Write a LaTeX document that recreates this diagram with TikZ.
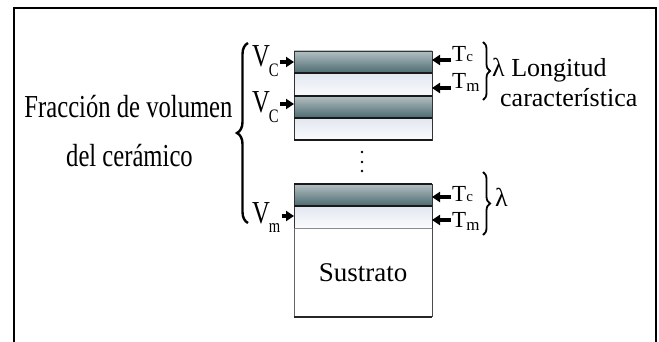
\documentclass[tikz,border=0pt]{standalone}
\usepackage{fontspec}
\setmainfont{Liberation Serif}
\newfontfamily\condfont[FakeStretch=0.77]{Liberation Serif}
\usetikzlibrary{arrows.meta,decorations.pathreplacing}
\definecolor{dkTop}{HTML}{B4C0C3}
\definecolor{dkMid}{HTML}{6E8C91}
\definecolor{dkBot}{HTML}{4A6A70}
\definecolor{ltTop}{HTML}{E2E7F0}
\definecolor{ltBot}{HTML}{FAFBFD}
\newcommand\vlow[2]{\raisebox{-#1}{\fontsize{19}{19}\selectfont #2}}
\begin{document}
\begin{tikzpicture}[x=1pt,y=-1pt,
  darklayer/.style={top color=dkTop, middle color=dkMid, bottom color=dkBot},
  lightlayer/.style={top color=ltTop, bottom color=ltBot},
  condlab/.style={font=\condfont\fontsize{32}{32}\selectfont, inner sep=0pt},
  tlab/.style={font=\fontsize{23}{23}\selectfont, inner sep=0pt, anchor=base west},
  biglab/.style={font=\fontsize{26}{26}\selectfont, inner sep=0pt, anchor=base west},
  arr/.style={line width=3.4pt, -{Triangle[length=8pt,width=10pt]}},
  thickline/.style={line width=2pt, draw=black!90},
  thinline/.style={line width=0.8pt, draw=black!80},
  bracel/.style={decorate, decoration={brace, amplitude=11pt}, line width=2.4pt},
  bracer/.style={decorate, decoration={brace, amplitude=7pt}, line width=1.8pt}]
\useasboundingbox (0,0) rectangle (659,342);
% frame
\draw[line width=2.6pt, line join=miter] (14,360) -- (14,8) -- (656,8) -- (656,360);
% layers group 1
\shade[darklayer] (294,51) rectangle (432,73);
\shade[lightlayer] (294,73) rectangle (432,96);
\shade[darklayer] (294,96) rectangle (432,118);
\shade[lightlayer] (294,118) rectangle (432,140);
\draw[thinline] (294,51) rectangle (432,140);
\draw[thickline] (294,73) -- (432,73);
\draw[thickline] (294,96) -- (432,96);
\draw[thickline] (294,118) -- (432,118);
\draw[thickline] (294,140) -- (432,140);
% dots
\fill (362,152) circle (1.4);
\fill (362,162) circle (1.4);
\fill (362,171) circle (1.4);
% layers group 2
\shade[darklayer] (294,184) rectangle (432,206);
\shade[lightlayer] (294,206) rectangle (432,228);
\draw[thinline] (294,228) -- (294,184) -- (432,184) -- (432,228);
\draw[thickline] (294,184) -- (432,184);
\draw[thickline] (294,206) -- (432,206);
\draw[line width=0.6pt, draw=black!45] (294,228) -- (432,228);
% substrate
\draw[line width=0.8pt, draw=black!60] (294,228) -- (294,317);
\draw[line width=0.8pt, draw=black!70] (432,228) -- (432,317);
\draw[line width=1.8pt, draw=black!85] (293.6,317) -- (432.4,317);
\node[font=\fontsize{27}{27}\selectfont, inner sep=0pt] (sus) at (363,273) {Sustrato};
% left text
\node[condlab, anchor=base] (frac1) at (128.5,118) {Fracción de volumen};
\node[condlab, anchor=base] (frac2) at (129.5,167) {del cerámico};
% V labels
\node[condlab, anchor=base west] (vc1) at (252,67) {V\kern-1pt\vlow{10pt}{C}};
\node[condlab, anchor=base west] (vc2) at (252,113) {V\kern-1pt\vlow{10pt}{C}};
\node[condlab, anchor=base west] (vm) at (252,223) {V\kern-1pt\vlow{9pt}{m}};
\coordinate (d1) at (294,62);
\coordinate (d2) at (294,104);
\coordinate (d3) at (294,216);
\draw[arr] ([xshift=1pt]vc1.east |- d1) -- (d1);
\draw[arr] ([xshift=1pt]vc2.east |- d2) -- (d2);
\draw[arr] ([xshift=1pt]vm.east |- d3) -- (d3);
% T labels
\node[tlab] (tc1) at (452,62) {T\raisebox{0pt}{\fontsize{15}{15}\selectfont c}};
\node[tlab] (tm1) at (452,89) {T\raisebox{-3pt}{\fontsize{17}{17}\selectfont m}};
\node[tlab] (tc2) at (452,201) {T\raisebox{0pt}{\fontsize{15}{15}\selectfont c}};
\node[tlab] (tm2) at (452,227) {T\raisebox{-3pt}{\fontsize{17}{17}\selectfont m}};
\coordinate (r1) at (432,60);
\coordinate (r2) at (432,88);
\coordinate (r3) at (432,197);
\coordinate (r4) at (432,220);
\draw[arr] ([xshift=-1pt]tc1.west |- r1) -- (r1);
\draw[arr] ([xshift=-1pt]tm1.west |- r2) -- (r2);
\draw[arr] ([xshift=-1pt]tc2.west |- r3) -- (r3);
\draw[arr] ([xshift=-1pt]tm2.west |- r4) -- (r4);
% braces
\coordinate (bl1) at (248,223);
\coordinate (bl2) at (248,43);
\draw[bracel] (bl1) -- (bl2);
\coordinate (br1) at (483,42);
\coordinate (br2) at (483,100);
\draw[bracer] (br1) -- (br2);
\coordinate (br3) at (483,172);
\coordinate (br4) at (483,235);
\draw[bracer] (br3) -- (br4);
% right texts
\node[biglab] (lam1) at (492,77) {λ Longitud};
\node[biglab] (car) at (500,107) {característica};
\node[biglab] (lam2) at (495,207) {λ};
\end{tikzpicture}
\end{document}
